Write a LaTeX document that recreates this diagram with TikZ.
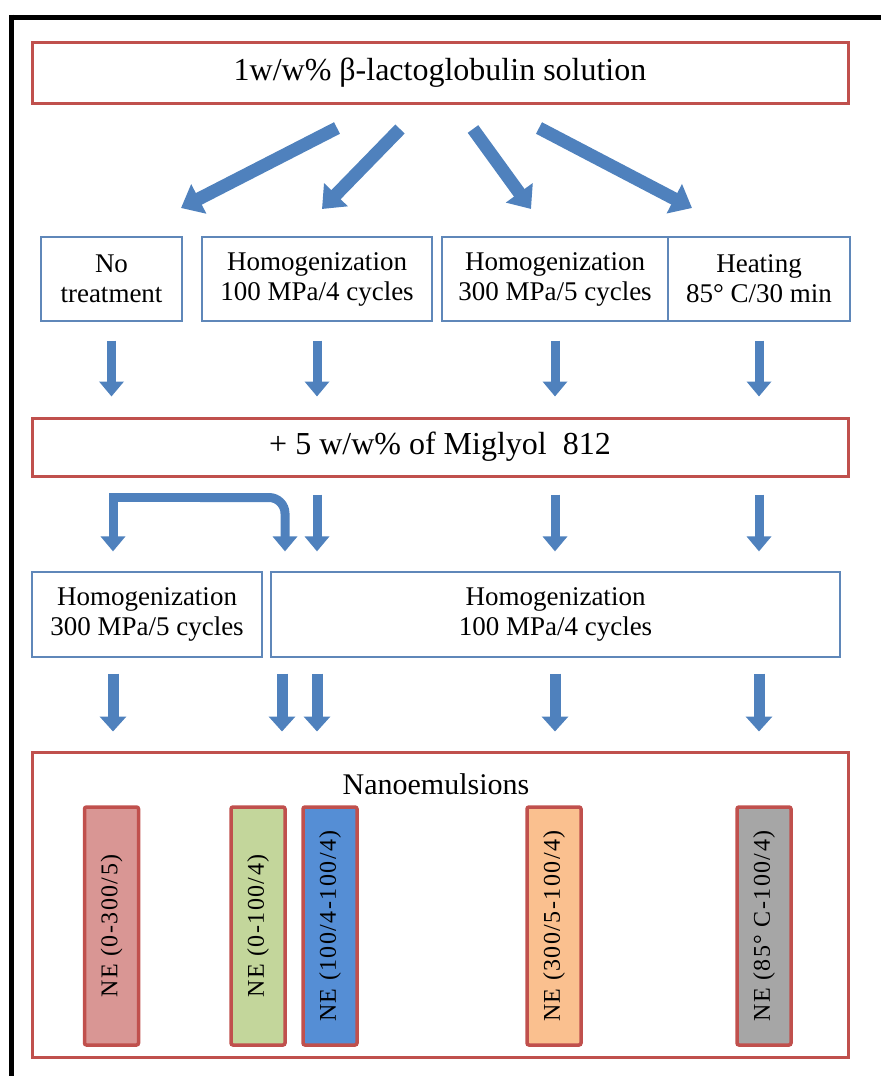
\documentclass[tikz,border=0pt]{standalone}
\usepackage{fontspec}
\setmainfont{Liberation Serif}
\newfontfamily\barfont{Liberation Serif}[LetterSpace=6]
\usetikzlibrary{arrows.meta}
\definecolor{ared}{RGB}{192,80,77}
\definecolor{ablue}{RGB}{79,129,189}
\definecolor{bblue}{RGB}{95,135,185}
\definecolor{fpink}{RGB}{217,150,148}
\definecolor{fgreen}{RGB}{195,214,155}
\definecolor{fblue}{RGB}{85,142,213}
\definecolor{forange}{RGB}{250,192,143}
\definecolor{fgray}{RGB}{166,166,166}
\begin{document}
\begin{tikzpicture}[x=1pt,y=-1pt,
  redbox/.style={draw=ared, line width=3pt, minimum width=816pt, inner sep=0pt,
    font=\fontsize{32}{34}\selectfont},
  bluebox/.style={draw=bblue, line width=1.2pt, minimum height=84pt, inner sep=0pt,
    align=center, font=\fontsize{27}{30}\selectfont},
  nebar/.style={draw=ared, line width=3.5pt, rounded corners=2pt, minimum width=238pt,
    minimum height=54pt, inner sep=0pt, rotate=90,
    font=\barfont\fontsize{24}{26}\selectfont},
  diag/.style={ablue, line width=13pt, -{Triangle[width=32pt,length=20pt]}},
  varrow/.style={ablue, line width=9pt, line join=miter, -{Triangle[width=24pt,length=15pt]}},
  varrowb/.style={ablue, line width=11pt, -{Triangle[width=26pt,length=15pt]}}
]
\useasboundingbox (0,0) rectangle (881,1076);
% outer frame
\coordinate (fc) at (11,17);
\draw[line width=5pt] (fc) -- (881,17);
\draw[line width=5pt] (11,14.5) -- (11,1076);

% top box
\node[redbox, minimum height=61pt] (top) at (440,72.5) {1w/w\% β-lactoglobulin solution};

% row 2
\node[bluebox, minimum width=141pt] (b1) at (111.5,279) {No\\treatment};
\node[bluebox, minimum width=230pt] (b2) at (317,279) {Homogenization\\100 MPa/4 cycles};
\node[bluebox, minimum width=226pt] (b3) at (555,279) {Homogenization\\300 MPa/5 cycles};
\node[bluebox, minimum width=182pt] (b4) at (759,279) {Heating\\85° C/30 min};

% diagonal arrows
\coordinate (d1s) at (337,128); \coordinate (d1e) at (181,208);
\coordinate (d2s) at (400,129); \coordinate (d2e) at (322,209);
\coordinate (d3s) at (473,129); \coordinate (d3e) at (531,209);
\coordinate (d4s) at (539,128); \coordinate (d4e) at (692,208);
\draw[diag] (d1s) -- (d1e);
\draw[diag] (d2s) -- (d2e);
\draw[diag] (d3s) -- (d3e);
\draw[diag] (d4s) -- (d4e);

% row 3
\node[redbox, minimum height=58pt] (mig) at (440,447) {+ 5 w/w\% of Miglyol~ 812};

% arrows row 2 -> row 3
\draw[varrow] ([yshift=-19pt]b1.south) -- ([yshift=20pt]b1.south |- mig.north);
\draw[varrow] ([yshift=-19pt]b2.south) -- ([yshift=20pt]b2.south |- mig.north);
\draw[varrow] ([yshift=-19pt]b3.south) -- ([yshift=20pt]b3.south |- mig.north);
\draw[varrow] ([yshift=-19pt]b4.south) -- ([yshift=20pt]b4.south |- mig.north);

% row 4
\node[bluebox, minimum width=230pt, minimum height=85pt] (c1) at (147,614.5) {Homogenization\\300 MPa/5 cycles};
\node[bluebox, minimum width=569pt, minimum height=85pt] (c2) at (555.5,614.5) {Homogenization\\100 MPa/4 cycles};

% arrows row 3 -> row 4
\coordinate (split) at (200,497.5);
\coordinate (bl) at (113,497.5);
\coordinate (br) at (285,497.5);
\draw[varrow] (split) -- (bl) -- ([yshift=20pt]bl |- c1.north);
\draw[varrow, rounded corners=16pt] (split) -- (br) -- ([yshift=20pt]br |- c2.north);
\draw[varrow] ([yshift=-17pt]b2.south |- mig.south) -- ([yshift=20pt]b2.south |- c2.north);
\draw[varrow] ([yshift=-17pt]b3.south |- mig.south) -- ([yshift=20pt]b3.south |- c2.north);
\draw[varrow] ([yshift=-17pt]b4.south |- mig.south) -- ([yshift=20pt]b4.south |- c2.north);

% bottom box
\node[draw=ared, line width=3pt, minimum width=816pt, minimum height=305pt, inner sep=0pt] (nano) at (440,904.5) {};
\node[font=\fontsize{30}{32}\selectfont, inner sep=0pt] (nt) at (436,784) {Nanoemulsions};

% arrows row 4 -> row 5
\draw[varrowb] ([yshift=-16pt]bl |- c1.south) -- ([yshift=19pt]bl |- nano.north);
\draw[varrowb] ([yshift=-16pt]282,0 |- c1.south) -- ([yshift=19pt]282,0 |- nano.north);
\draw[varrowb] ([yshift=-16pt]b2.south |- c2.south) -- ([yshift=19pt]b2.south |- nano.north);
\draw[varrowb] ([yshift=-16pt]b3.south |- c2.south) -- ([yshift=19pt]b3.south |- nano.north);
\draw[varrowb] ([yshift=-16pt]b4.south |- c2.south) -- ([yshift=19pt]b4.south |- nano.north);

% NE bars
\node[nebar, fill=fpink] (n1) at (111.5,926) {NE (0-300/5)};
\node[nebar, fill=fgreen] (n2) at (258,926) {NE (0-100/4)};
\node[nebar, fill=fblue] (n3) at (330,926) {NE (100/4-100/4)};
\node[nebar, fill=forange] (n4) at (554,926) {NE (300/5-100/4)};
\node[nebar, fill=fgray] (n5) at (764,926) {NE (85° C-100/4)};
\end{tikzpicture}
\end{document}
